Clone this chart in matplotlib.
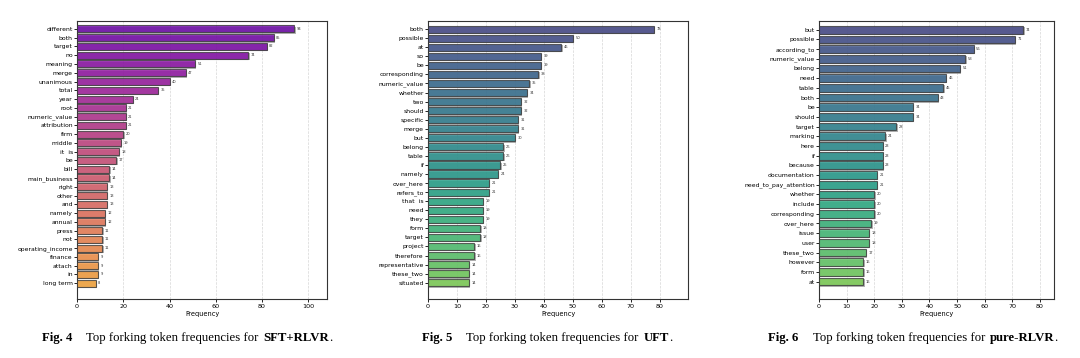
import numpy as np
import matplotlib
matplotlib.use("Agg")
import matplotlib.pyplot as plt
import matplotlib.patheffects as pe

# token frequencies, top to bottom
sft_tokens = ["different", "both", "target", "no", "meaning", "merge", "unanimous", "total",
              "year", "root", "numeric_value", "attribution", "firm", "middle", "it  is", "be",
              "bill", "main_business", "right", "other", "and", "namely", "annual", "press",
              "not", "operating_income", "finance", "attach", "in", "long term"]
sft_counts = [94, 85, 82, 74, 51, 47, 40, 35, 24, 21, 21, 21, 20, 19, 18, 17,
              14, 14, 13, 13, 13, 12, 12, 11, 11, 11, 9, 9, 9, 8]

uft_tokens = ["both", "possible", "at", "so", "be", "corresponding", "numeric_value", "whether",
              "two", "should", "specific", "merge", "but", "belong", "table", "if", "namely",
              "over_here", "refers_to", "that  is", "need", "they", "form", "target", "project",
              "therefore", "representative", "these_two", "situated"]
uft_counts = [78, 50, 46, 39, 39, 38, 35, 34, 32, 32, 31, 31, 30, 26, 26, 25, 24,
              21, 21, 19, 19, 19, 18, 18, 16, 16, 14, 14, 14]

rlvr_tokens = ["but", "possible", "according_to", "numeric_value", "belong", "need", "table",
               "both", "be", "should", "target", "marking", "here", "if", "because",
               "documentation", "need_to_pay_attention", "whether", "include", "corresponding",
               "over_here", "issue", "user", "these_two", "however", "form", "at"]
rlvr_counts = [74, 71, 56, 53, 51, 46, 45, 43, 34, 34, 28, 24, 23, 23, 23,
               21, 21, 20, 20, 20, 19, 18, 18, 17, 16, 16, 16]

panels = [
    (sft_tokens, sft_counts, "plasma", "4", "SFT+RLVR"),
    (uft_tokens, uft_counts, "viridis", "5", "UFT"),
    (rlvr_tokens, rlvr_counts, "viridis", "6", "pure-RLVR"),
]

fig = plt.figure(figsize=(10.8, 3.58), dpi=100)
W, H = 1080, 358

# axes boxes in pixels: left, right
boxes = [(77, 327), (428, 688), (819, 1054)]
top_px, bottom_px = 21, 299
caption_centers = [187, 547, 913]


def draw_caption(xc, y, parts, size=9.2):
    renderer = fig.canvas.get_renderer()
    items = []
    total = 0
    for s, bold, gap in parts:
        t = fig.text(0, y, s, fontsize=size, family="Liberation Serif",
                     fontweight="bold" if bold else "normal", va="center", ha="left")
        w = t.get_window_extent(renderer).width
        items.append((t, w, gap))
        total += w + gap
    x = xc - total / 2
    for t, w, gap in items:
        t.set_x(x / W)
        x += w + gap


for (tokens, counts, cmap_name, fig_no, name), (l, r), xc in zip(panels, boxes, caption_centers):
    ax = fig.add_axes([l / W, 1 - bottom_px / H, (r - l) / W, (bottom_px - top_px) / H])
    n = len(tokens)
    cmap = plt.get_cmap(cmap_name)
    colors = [cmap(v) for v in np.linspace(0.2, 0.8, n)]
    ypos = np.arange(n)
    bars = ax.barh(ypos, counts, height=0.8, color=colors, alpha=0.8,
                   edgecolor="#3a3a3a", linewidth=0.8, zorder=3)
    for b in bars:
        b.set_path_effects([pe.SimplePatchShadow(offset=(1.0, -1.0), shadow_rgbFace="gray", alpha=0.6),
                            pe.Normal()])
        ax.text(b.get_width() + max(counts) * 0.012, b.get_y() + b.get_height() / 2,
                str(int(b.get_width())), fontsize=2.6, va="center", ha="left", color="#333333")

    ax.set_yticks(ypos)
    ax.set_yticklabels(tokens, fontsize=4.4)
    ax.set_ylim(n - 1 + 1.8, -0.9)
    ax.set_xlim(0, max(counts) * 1.15)
    ax.tick_params(axis="x", labelsize=4.6, length=2, width=0.6, pad=1.5)
    ax.tick_params(axis="y", length=2, width=0.6, pad=1)
    ax.set_xlabel("Frequency", fontsize=4.8, labelpad=1.5)
    ax.grid(axis="x", linestyle="--", color="#cccccc", linewidth=0.5, alpha=0.8, zorder=0)
    ax.set_axisbelow(True)
    for sp in ax.spines.values():
        sp.set_linewidth(0.8)
        sp.set_color("#333333")

    draw_caption(xc, 1 - 338 / H, [
        ("Fig. " + fig_no, True, 14),
        ("Top forking token frequencies for", False, 4.5),
        (name, True, 0),
        (".", False, 0),
    ])

fig.savefig("out.png", dpi=100)
